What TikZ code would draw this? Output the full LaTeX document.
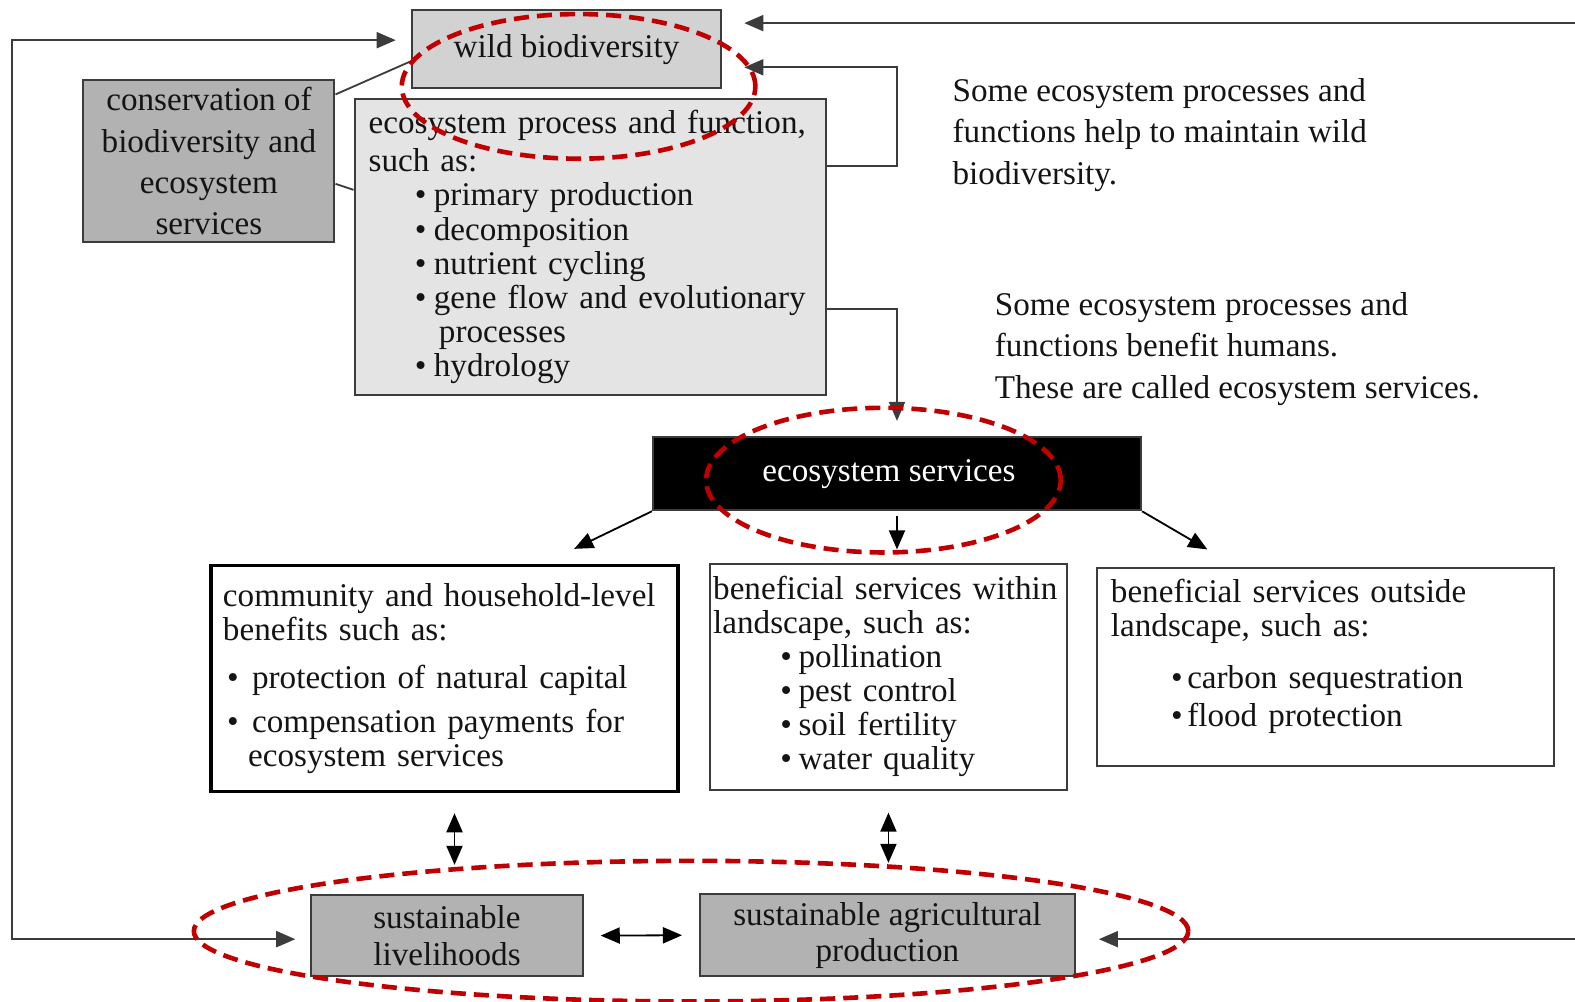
\documentclass[tikz,border=0pt]{standalone}
\usepackage{fontspec}
\setmainfont{Liberation Serif}
\usepackage{xcolor}
\usepackage{tikz}
\usetikzlibrary{calc,positioning,shapes.geometric,arrows.meta}
\definecolor{ringred}{HTML}{C00000}
\definecolor{edgegray}{HTML}{3C3C3C}
\definecolor{palegray}{HTML}{E4E4E4}
\definecolor{lightfill}{HTML}{D2D2D2}
\definecolor{boxgray}{HTML}{B2B2B2}
\newcommand{\bul}[2]{\hspace*{#1}\makebox[#2][l]{\textbullet}}

\begin{document}
\begin{tikzpicture}[
    x=0.5pt, y=-0.5pt,
    every node/.style={font=\fontsize{16.5}{17}\selectfont, text=black!92},
    box/.style={rectangle, draw=edgegray, line width=1pt, inner sep=0pt},
    arr/.style={-{Triangle[length=9.5pt,width=8pt]}, edgegray, line width=0.9pt},
    dbl/.style={{Triangle[length=9.5pt,width=8pt]}-{Triangle[length=9.5pt,width=8pt]}, black, line width=0.9pt},
    ring/.style={ellipse, draw=ringred, line width=2.3pt, dash pattern=on 7.5pt off 4pt, inner sep=0pt}
]
\useasboundingbox (0,0) rectangle (1568,997);

% top part
\node[box, fill=lightfill, minimum width=154pt, minimum height=39pt] (wild) at (564,49) {wild biodiversity};
\node[box, fill=boxgray, minimum width=125pt, minimum height=80.5pt, align=center,
    font=\fontsize{16.5}{20.5}\selectfont] (cons) at (208,160.5)
    {conservation of\\biodiversity and\\ecosystem\\services};
\node[box, fill=palegray, minimum width=234.5pt, minimum height=147pt, inner xsep=7pt,
    text width=220.5pt, align=left] (proc) at (587.5,246)
    {ecosystem process and function,\\[2pt]such as:\\
     \bul{23pt}{9.5pt}primary production\\
     \bul{23pt}{9.5pt}decomposition\\
     \bul{23pt}{9.5pt}nutrient cycling\\
     \bul{23pt}{9.5pt}gene flow and evolutionary\\
     \hspace*{35pt}processes\\
     \bul{23pt}{9.5pt}hydrology};
\node[anchor=north west, inner sep=0pt, align=left, font=\fontsize{16.5}{20.5}\selectfont] (note1) at (948,78)
    {Some ecosystem processes and\\functions help to maintain wild\\biodiversity.};
\node[anchor=north west, inner sep=0pt, align=left, font=\fontsize{16.5}{20.5}\selectfont] (note2) at (990,291)
    {Some ecosystem processes and\\functions benefit humans.\\These are called ecosystem services.};

% services
\node[box, fill=black, minimum width=243pt, minimum height=36.5pt, text=white] (es) at (893,471.5)
    {ecosystem services\hspace*{8pt}};
\node[box, draw=black, line width=1.6pt, minimum width=232.5pt, minimum height=112.5pt, inner xsep=6pt,
    text width=220.5pt, align=left] (comm) at (442.5,675.5)
    {community and household-level\\benefits such as:\\[7pt]
     \bul{2pt}{12.5pt}protection of natural capital\\[5pt]
     \bul{2pt}{12.5pt}compensation payments for\\
     \hspace*{12.5pt}ecosystem services};
\node[box, minimum width=177.5pt, minimum height=112.5pt, inner xsep=1.5pt,
    text width=174.5pt, align=left] (within) at (884.5,673.5)
    {beneficial services within\\landscape, such as:\\
     \bul{33.5pt}{9pt}pollination\\
     \bul{33.5pt}{9pt}pest control\\
     \bul{33.5pt}{9pt}soil fertility\\
     \bul{33.5pt}{9pt}water quality};
\node[box, minimum width=227.5pt, minimum height=99pt, inner xsep=7pt,
    text width=213.5pt, align=left] (outside) at (1319.5,664)
    {beneficial services outside\\landscape, such as:\\[8.5pt]
     \bul{30pt}{8pt}carbon sequestration\\[2pt]
     \bul{30pt}{8pt}flood protection\\[-3pt]\mbox{}};

% bottom
\node[box, fill=boxgray, minimum width=135pt, minimum height=40.5pt, align=center,
    font=\fontsize{16.5}{18}\selectfont] (liveli) at (445,931.5) {sustainable\\livelihoods};
\node[box, fill=boxgray, minimum width=186.5pt, minimum height=41pt, align=center,
    font=\fontsize{16.5}{18}\selectfont] (agri) at (883.5,931) {sustainable agricultural\\production};

% connectors
\coordinate (lefttop) at (12,40);
\coordinate (leftbot) at (12,935);
\coordinate (righttop) at (1568,23);
\coordinate (rightbot) at (1568,935);
\coordinate (looptop) at (893,67);
\coordinate (loopbot) at (893,165);
\coordinate (esin) at (893,308);
\coordinate (commlink) at ($(comm.south)+(10,0)$);

\draw[dbl, edgegray, shorten <=7.5pt, shorten >=7.5pt] (wild.west |- lefttop) -- (lefttop) -- (leftbot) -- (liveli.west |- leftbot);
\draw[arr, shorten >=11pt] (righttop) -- (wild.east |- righttop);
\draw[arr, shorten >=11.5pt] (rightbot) -- (agri.east |- rightbot);
\draw[arr, shorten >=11pt] (proc.east |- loopbot) -- (loopbot) -- (looptop) -- (wild.east |- looptop);
\draw[arr, shorten >=7.5pt] (proc.east |- esin) -- (esin) -- (es.north -| esin);
\draw[edgegray, line width=0.9pt] ($(cons.north east)+(0,15)$) -- ($(wild.south west)+(0,-28)$);
\draw[edgegray, line width=0.9pt] ($(cons.east)+(0,22.5)$) -- ($(proc.north west)+(0,91)$);

\draw[arr, black] (es.south west) -- ($(comm.north east)+(-105,-15)$);
\draw[arr, black, shorten <=2.5pt, shorten >=6.5pt] (es.south) -- (es.south |- within.north);
\draw[arr, black] (es.south east) -- ($(outside.north west)+(111,-17)$);

\draw[dbl, shorten <=10pt, shorten >=14.5pt] (commlink) -- (commlink |- liveli.north);
\draw[dbl, shorten <=11pt, shorten >=15pt] (within.south) -- (within.south |- agri.north);
\draw[dbl, shorten <=8.5pt, shorten >=8.5pt] (liveli.east) -- (agri.west);

% red rings
\node[ring, minimum width=176pt, minimum height=72pt] (ringwild) at (576,86) {};
\node[ring, minimum width=176.5pt, minimum height=72pt] (ringes) at (879.5,478) {};
\node[ring, minimum width=495pt, minimum height=70pt] (ringbottom) at (688,927) {};
\end{tikzpicture}
\end{document}
